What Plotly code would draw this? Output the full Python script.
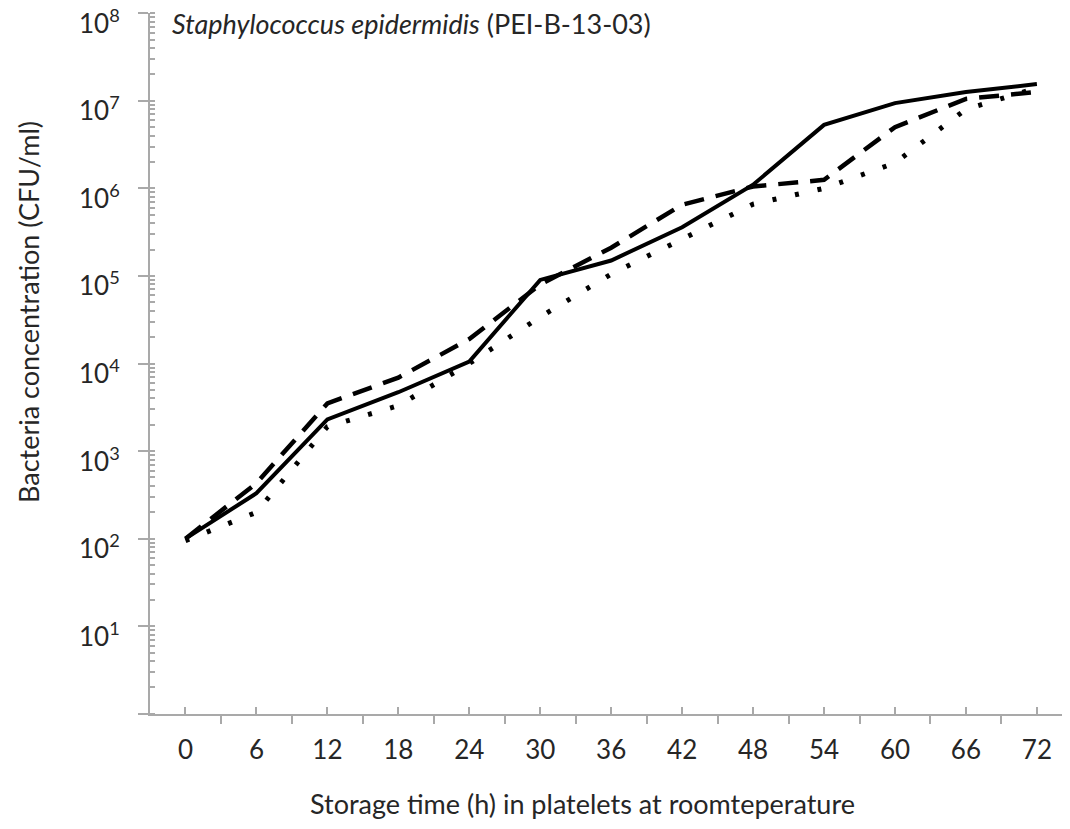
import plotly.graph_objects as go

hours = [0, 6, 12, 18, 24, 30, 36, 42, 48, 54, 60, 66, 72]
solid = [100, 330, 2300, 4700, 1.05e4, 9e4, 1.5e5, 3.6e5, 1.1e6, 5.3e6, 9.4e6, 1.26e7, 1.55e7]
dashed = [100, 430, 3500, 6900, 1.9e4, 8e4, 2.1e5, 6.5e5, 1.05e6, 1.25e6, 5e6, 1.05e7, 1.26e7]
dotted = [95, 200, 1900, 3300, 1.0e4, 3.4e4, 1.05e5, 2.6e5, 6.6e5, 1.0e6, 1.95e6, 8e6, 1.4e7]

x_ticks = [0, 6, 12, 18, 24, 30, 36, 42, 48, 54, 60, 66, 72]
y_exps = [0, 1, 2, 3, 4, 5, 6, 7, 8]
y_tickvals = [10 ** e for e in y_exps]
y_label_exps = [1, 2, 3, 4, 5, 6, 7, 8]

FONT = "Lato"
TXT = "#262626"
AXIS_GRAY = "#a9a9a9"

fig = go.Figure()
fig.add_trace(go.Scatter(x=hours, y=solid, mode="lines",
                         line=dict(color="black", width=4), showlegend=False))
fig.add_trace(go.Scatter(x=hours, y=dashed, mode="lines",
                         line=dict(color="black", width=4.5, dash="20px,12px"), showlegend=False))
fig.add_trace(go.Scatter(x=hours, y=dotted, mode="lines",
                         line=dict(color="black", width=5, dash="4px,19px"), showlegend=False))

# y tick labels (10^n), set slightly below their tick as in the reference
y_label_annotations = [
    dict(text=f"10<sup>{e}</sup>", xref="paper", yref="y", x=0, y=e,
         xanchor="right", yanchor="middle", xshift=-28, yshift=-8, showarrow=False,
         font=dict(size=26, family=FONT, color=TXT))
    for e in y_label_exps
]

# page has an 8px body margin; figure is offset accordingly
fig.update_layout(
    width=1062, height=821,
    margin=dict(l=142, r=0, t=5, b=115),
    paper_bgcolor="white", plot_bgcolor="white",
    font=dict(family=FONT, color=TXT),
    xaxis=dict(
        range=[-3, 74.8], showgrid=False, zeroline=False, automargin=False,
        showline=True, linecolor=AXIS_GRAY, linewidth=2,
        tickmode="array", tickvals=x_ticks, ticktext=[str(v) for v in x_ticks],
        ticks="inside", ticklen=7, tickwidth=2, tickcolor=AXIS_GRAY,
        minor=dict(tickmode="array", tickvals=[-3 + 6 * i for i in range(13)],
                   ticks="outside", ticklen=8, tickwidth=2, tickcolor=AXIS_GRAY),
        tickfont=dict(size=26, family=FONT, color=TXT),
        ticklabelstandoff=12,
    ),
    yaxis=dict(
        type="log", range=[-0.002, 8.002], showgrid=False, zeroline=False, automargin=False,
        showline=True, linecolor=AXIS_GRAY, linewidth=2,
        tickmode="array", tickvals=y_tickvals, showticklabels=False,
        ticks="outside", ticklen=10, tickwidth=2, tickcolor=AXIS_GRAY,
        minor=dict(ticks="inside", ticklen=5, tickwidth=1.5, tickcolor=AXIS_GRAY, dtick="D1"),
    ),
    annotations=y_label_annotations + [
        dict(text="<i>Staphylococcus epidermidis</i> (PEI-B-13-03)",
             xref="paper", yref="paper", x=(170 - 150) / 920, y=1.0, xanchor="left", yanchor="middle",
             yshift=-10, showarrow=False, font=dict(size=27, family=FONT, color=TXT)),
        dict(text="Storage time (h) in platelets at roomteperature",
             xref="paper", yref="paper", x=(582 - 150) / 920, y=0, xanchor="center", yanchor="middle",
             yshift=-89, showarrow=False, font=dict(size=27, family=FONT, color=TXT)),
        dict(text="Bacteria concentration (CFU/ml)", textangle=-90,
             xref="paper", yref="paper", x=0, y=(714 - 312) / 701, xanchor="center", yanchor="middle",
             xshift=-122, showarrow=False, font=dict(size=27, family=FONT, color=TXT)),
    ],
)

fig.write_html("out.html")
